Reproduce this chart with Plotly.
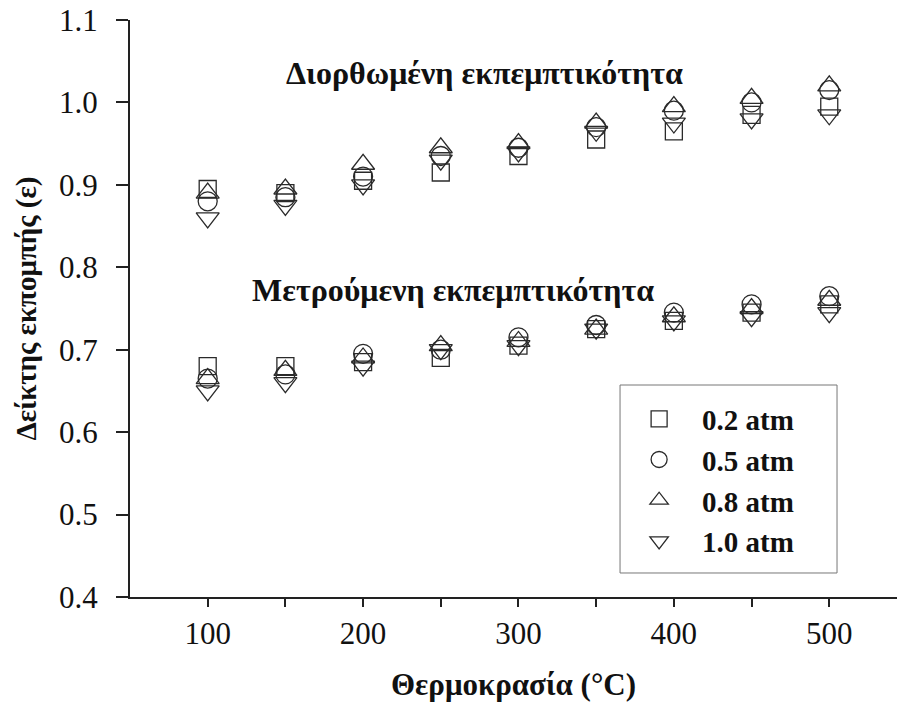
import plotly.graph_objects as go

# ---- data ----
temperatures = [100, 150, 200, 250, 300, 350, 400, 450, 500]
pressure_labels = ["0.2 atm", "0.5 atm", "0.8 atm", "1.0 atm"]

# corrected emissivity (upper cluster)
corr_02 = [0.895, 0.89, 0.905, 0.915, 0.935, 0.955, 0.965, 0.985, 0.995]
corr_05 = [0.88, 0.885, 0.91, 0.935, 0.945, 0.97, 0.99, 1.0, 1.015]
corr_08 = [0.89, 0.895, 0.925, 0.945, 0.95, 0.975, 0.995, 1.005, 1.02]
corr_10 = [0.86, 0.875, 0.90, 0.93, 0.94, 0.965, 0.975, 0.98, 0.985]

# measured emissivity (lower cluster)
meas_02 = [0.68, 0.68, 0.685, 0.69, 0.705, 0.725, 0.735, 0.745, 0.755]
meas_05 = [0.665, 0.67, 0.695, 0.70, 0.715, 0.73, 0.745, 0.755, 0.765]
meas_08 = [0.665, 0.675, 0.69, 0.705, 0.71, 0.725, 0.74, 0.75, 0.76]
meas_10 = [0.65, 0.66, 0.68, 0.70, 0.705, 0.725, 0.735, 0.74, 0.745]

x_tick_vals = [100, 150, 200, 250, 300, 350, 400, 450, 500]
x_tick_text = ["100", "", "200", "", "300", "", "400", "", "500"]
y_tick_vals = [0.4, 0.5, 0.6, 0.7, 0.8, 0.9, 1.0, 1.1]

# ---- styling ----
SERIF = "Liberation Serif"
symbols = ["square-open", "circle-open", "triangle-up-open", "triangle-down-open"]
sizes = [17, 19, 20, 20]
corr_sets = [corr_02, corr_05, corr_08, corr_10]
meas_sets = [meas_02, meas_05, meas_08, meas_10]

fig = go.Figure()
for i, label in enumerate(pressure_labels):
    fig.add_trace(go.Scatter(
        x=temperatures + temperatures,
        y=corr_sets[i] + meas_sets[i],
        mode="markers",
        name=label,
        legendgroup=label,
        marker=dict(symbol=symbols[i], size=sizes[i], color="#2a2a2a",
                    line=dict(width=1.3, color="#2a2a2a")),
    ))

fig.add_annotation(x=278, y=1.036, xref="x", yref="y",
                   text="<b>Διορθωμένη εκπεμπτικότητα</b>", showarrow=False,
                   font=dict(family=SERIF, size=32, color="#111"))
fig.add_annotation(x=258, y=0.773, xref="x", yref="y",
                   text="<b>Μετρούμενη εκπεμπτικότητα</b>", showarrow=False,
                   font=dict(family=SERIF, size=32, color="#111"))

# legend frame
fig.add_shape(type="rect", xref="paper", yref="paper",
              x0=0.6389, x1=0.9218, y0=0.0416, y1=0.3674,
              line=dict(color="#777", width=1), fillcolor="white", layer="below")

fig.update_layout(
    width=897, height=702,
    margin=dict(l=130, r=0, t=20, b=105),
    paper_bgcolor="white", plot_bgcolor="white",
    font=dict(family=SERIF, color="#111"),
    legend=dict(
        x=0.639, y=0.3618, xanchor="left", yanchor="top",
        borderwidth=0, bgcolor="rgba(0,0,0,0)",
        font=dict(family=SERIF, size=29, color="#111", weight="bold"),
        tracegroupgap=0, indentation=-4, itemwidth=76,
        title=dict(text="&nbsp;", font=dict(size=4)),
    ),
)
fig.update_xaxes(
    range=[50, 543.6], showgrid=False, zeroline=False,
    showline=True, linecolor="#222", linewidth=2,
    ticks="outside", ticklen=8, tickwidth=2, tickcolor="#222",
    tickvals=x_tick_vals, ticktext=x_tick_text,
    tickfont=dict(family=SERIF, size=31, color="#111"),
    title=dict(text="<b>Θερμοκρασία (°C)</b>", standoff=25,
               font=dict(family=SERIF, size=31, color="#111")),
)
fig.update_yaxes(
    range=[0.4, 1.1], showgrid=False, zeroline=False,
    showline=True, linecolor="#222", linewidth=2,
    ticks="outside", ticklen=12, tickwidth=2, tickcolor="#222",
    tickvals=y_tick_vals, tickformat=".1f",
    ticklabelstandoff=12,
    tickfont=dict(family=SERIF, size=31, color="#111"),
    title=dict(text="<b>Δείκτης εκπομπής (ε)</b>", standoff=14,
               font=dict(family=SERIF, size=29, color="#111")),
)

fig.write_html("out.html")
